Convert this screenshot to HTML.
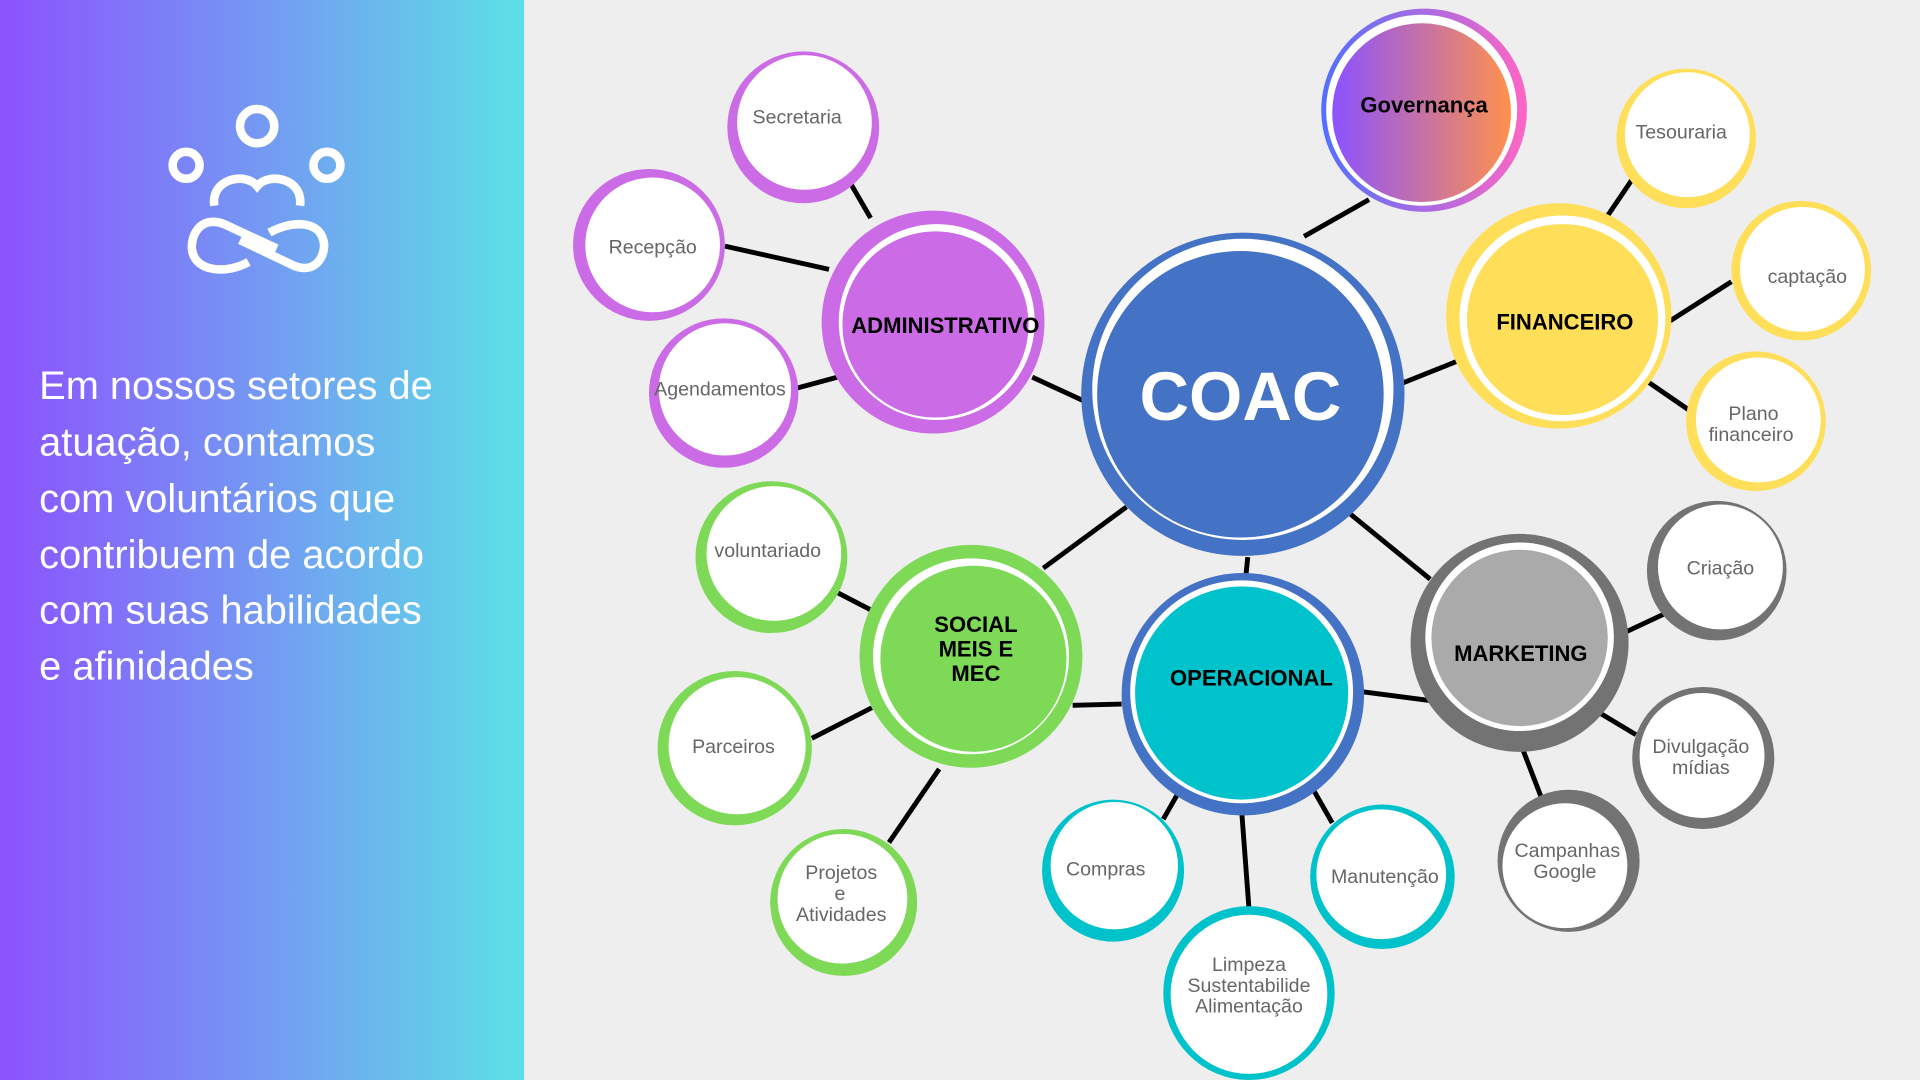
<!DOCTYPE html>
<html><head><meta charset="utf-8"><style>
html,body{margin:0;padding:0;width:1920px;height:1080px;overflow:hidden;background:#eeeeee}
svg{display:block}
text{font-family:"Liberation Sans",sans-serif}
.lf{fill:#666;font-size:16px;text-anchor:middle}
.mf{fill:#000;font-size:18px;font-weight:bold;text-anchor:middle}
</style></head><body>
<svg width="1920" height="1080" viewBox="0 0 1568 882" xmlns="http://www.w3.org/2000/svg">
<defs>
<linearGradient id="lg" x1="0" y1="0" x2="1" y2="0"><stop offset="0" stop-color="#8c52ff"/><stop offset="1" stop-color="#5ce1e6"/></linearGradient>
<linearGradient id="gov" x1="0" y1="0" x2="1" y2="0"><stop offset="0" stop-color="#8c52ff"/><stop offset="1" stop-color="#ff914d"/></linearGradient>
<linearGradient id="govr" x1="0" y1="0" x2="1" y2="0"><stop offset="0" stop-color="#5170ff"/><stop offset="1" stop-color="#ff66c4"/></linearGradient>
</defs>
<rect width="1568" height="882" fill="#eeeeee"/>
<rect width="428" height="882" fill="url(#lg)"/>
<!-- icon -->
<g fill="none" stroke="#fff" stroke-width="7" stroke-linecap="butt">
<circle cx="210" cy="103" r="14"/>
<circle cx="152" cy="135" r="11"/>
<circle cx="267" cy="135" r="11"/>
<path d="M175 168 C172 146 200 140 210 152 C220 140 248 146 245 168"/>
<path d="M226 203 L183 183 C162 175 155 195 157 205 C160 222 185 224 203 214"/>
<path d="M196 196 L240 217 C260 225 267 205 264 196 C260 180 238 180 220 190"/>
</g>
<g fill="#fff" font-size="32.5">
<text x="32" y="326">Em nossos setores de</text>
<text x="32" y="372">atuação, contamos</text>
<text x="32" y="418">com voluntários que</text>
<text x="32" y="464">contribuem de acordo</text>
<text x="32" y="509">com suas habilidades</text>
<text x="32" y="555">e afinidades</text>
</g>
<!-- connectors -->
<g stroke="#000" stroke-width="4">
<line x1="1065" y1="193" x2="1118" y2="163"/>
<line x1="843" y1="308" x2="895" y2="332"/>
<line x1="1140" y1="315" x2="1190" y2="295"/>
<line x1="920" y1="414" x2="852" y2="464"/>
<line x1="1019" y1="455" x2="1017" y2="475"/>
<line x1="1103" y1="420" x2="1168" y2="473"/>
<line x1="693" y1="147" x2="711" y2="178"/>
<line x1="592" y1="201" x2="677" y2="220"/>
<line x1="647" y1="318" x2="684" y2="308"/>
<line x1="1313" y1="176" x2="1334" y2="145"/>
<line x1="1364" y1="262" x2="1414" y2="230"/>
<line x1="1346" y1="312" x2="1381" y2="336"/>
<line x1="684" y1="484" x2="711" y2="498"/>
<line x1="663" y1="603" x2="712" y2="578"/>
<line x1="726" y1="688" x2="767" y2="628"/>
<line x1="876" y1="576" x2="916" y2="575"/>
<line x1="1113" y1="565" x2="1167" y2="572"/>
<line x1="950" y1="669" x2="962" y2="648"/>
<line x1="1014" y1="662" x2="1020" y2="742"/>
<line x1="1072" y1="644" x2="1088" y2="672"/>
<line x1="1328" y1="516" x2="1360" y2="501"/>
<line x1="1306" y1="582" x2="1336" y2="600"/>
<line x1="1244" y1="613" x2="1259" y2="652"/>
</g>
<!-- main nodes -->
<circle cx="1015" cy="322" r="132" fill="#4472c4"/>
<circle cx="1015" cy="318" r="123" fill="#fff"/>
<circle cx="1013" cy="322" r="117" fill="#4472c4"/>
<text x="1013" y="343" fill="#fff" font-size="56" font-weight="bold" text-anchor="middle">COAC</text>

<circle cx="762" cy="263" r="91" fill="#cb6ce6"/>
<circle cx="765" cy="263" r="80" fill="#fff"/>
<circle cx="764" cy="265" r="76" fill="#cb6ce6"/>
<text x="772" y="272" class="mf" font-size="17">ADMINISTRATIVO</text>

<ellipse cx="1163" cy="90" rx="84" ry="83" fill="url(#govr)"/>
<circle cx="1161" cy="90" r="78" fill="#fff"/>
<circle cx="1161" cy="92" r="73" fill="url(#gov)"/>
<text x="1163" y="92" class="mf">Governança</text>

<circle cx="1273" cy="258" r="92" fill="#ffde59"/>
<circle cx="1276" cy="260" r="84" fill="#fff"/>
<circle cx="1276" cy="261" r="78" fill="#ffde59"/>
<text x="1278" y="269" class="mf">FINANCEIRO</text>

<circle cx="1241" cy="525" r="89" fill="#737373"/>
<circle cx="1241" cy="520" r="77" fill="#fff"/>
<circle cx="1241" cy="521" r="72" fill="#aaaaaa"/>
<text x="1242" y="540" class="mf">MARKETING</text>

<circle cx="1015" cy="567" r="99" fill="#4472c4"/>
<circle cx="1014" cy="565" r="91" fill="#fff"/>
<circle cx="1014" cy="566" r="87" fill="#00c2cb"/>
<text x="1022" y="560" class="mf">OPERACIONAL</text>

<circle cx="793" cy="536" r="91" fill="#7ed957"/>
<circle cx="793" cy="536" r="80" fill="#fff"/>
<circle cx="795" cy="538" r="76" fill="#7ed957"/>
<text class="mf" font-size="17"><tspan x="797" y="516">SOCIAL</tspan><tspan x="797" y="536">MEIS E</tspan><tspan x="797" y="556">MEC</tspan></text>

<!-- leaves -->
<g>
<circle cx="656" cy="104" r="62" fill="#cb6ce6"/><circle cx="657" cy="100" r="55" fill="#fff"/>
<circle cx="530" cy="200" r="62" fill="#cb6ce6"/><circle cx="533" cy="200" r="55" fill="#fff"/>
<circle cx="591" cy="321" r="61" fill="#cb6ce6"/><circle cx="592" cy="318" r="54" fill="#fff"/>
<circle cx="630" cy="455" r="62" fill="#7ed957"/><circle cx="632" cy="452" r="55" fill="#fff"/>
<circle cx="600" cy="611" r="63" fill="#7ed957"/><circle cx="602" cy="609" r="56" fill="#fff"/>
<circle cx="689" cy="737" r="60" fill="#7ed957"/><circle cx="688" cy="734" r="53" fill="#fff"/>
<circle cx="909" cy="711" r="58" fill="#00c2cb"/><circle cx="910" cy="707" r="52" fill="#fff"/>
<ellipse cx="1020" cy="811" rx="70" ry="71" fill="#00c2cb"/><ellipse cx="1020" cy="812" rx="64" ry="65" fill="#fff"/>
<circle cx="1129" cy="716" r="59" fill="#00c2cb"/><circle cx="1128" cy="714" r="53" fill="#fff"/>
<circle cx="1281" cy="703" r="58" fill="#737373"/><circle cx="1278" cy="707" r="51" fill="#fff"/>
<circle cx="1391" cy="619" r="58" fill="#737373"/><circle cx="1390" cy="617" r="51" fill="#fff"/>
<circle cx="1402" cy="466" r="57" fill="#737373"/><circle cx="1405" cy="463" r="51" fill="#fff"/>
<circle cx="1377" cy="113" r="57" fill="#ffde59"/><circle cx="1378" cy="110" r="51" fill="#fff"/>
<circle cx="1471" cy="221" r="57" fill="#ffde59"/><circle cx="1472" cy="220" r="51" fill="#fff"/>
<circle cx="1434" cy="344" r="57" fill="#ffde59"/><circle cx="1436" cy="343" r="51" fill="#fff"/>
</g>
<g class="lf">
<text x="651" y="101" class="lf">Secretaria</text>
<text x="533" y="207" class="lf">Recepção</text>
<text x="588" y="323" class="lf" font-size="14">Agendamentos</text>
<text x="627" y="455" class="lf">voluntariado</text>
<text x="599" y="615" class="lf">Parceiros</text>
<text class="lf"><tspan x="687" y="718">Projetos</tspan><tspan x="686" y="735">e</tspan><tspan x="687" y="752">Atividades</tspan></text>
<text x="903" y="715" class="lf">Compras</text>
<text class="lf"><tspan x="1020" y="793">Limpeza</tspan><tspan x="1020" y="810">Sustentabilide</tspan><tspan x="1020" y="827">Alimentação</tspan></text>
<text x="1131" y="721" class="lf">Manutenção</text>
<text class="lf"><tspan x="1280" y="700">Campanhas</tspan><tspan x="1278" y="717">Google</tspan></text>
<text class="lf"><tspan x="1389" y="615">Divulgação</tspan><tspan x="1389" y="632">mídias</tspan></text>
<text x="1405" y="469" class="lf">Criação</text>
<text x="1373" y="113" class="lf">Tesouraria</text>
<text x="1476" y="231" class="lf">captação</text>
<text class="lf"><tspan x="1432" y="343">Plano</tspan><tspan x="1430" y="360">financeiro</tspan></text>
</g>
</svg>
</body></html>
